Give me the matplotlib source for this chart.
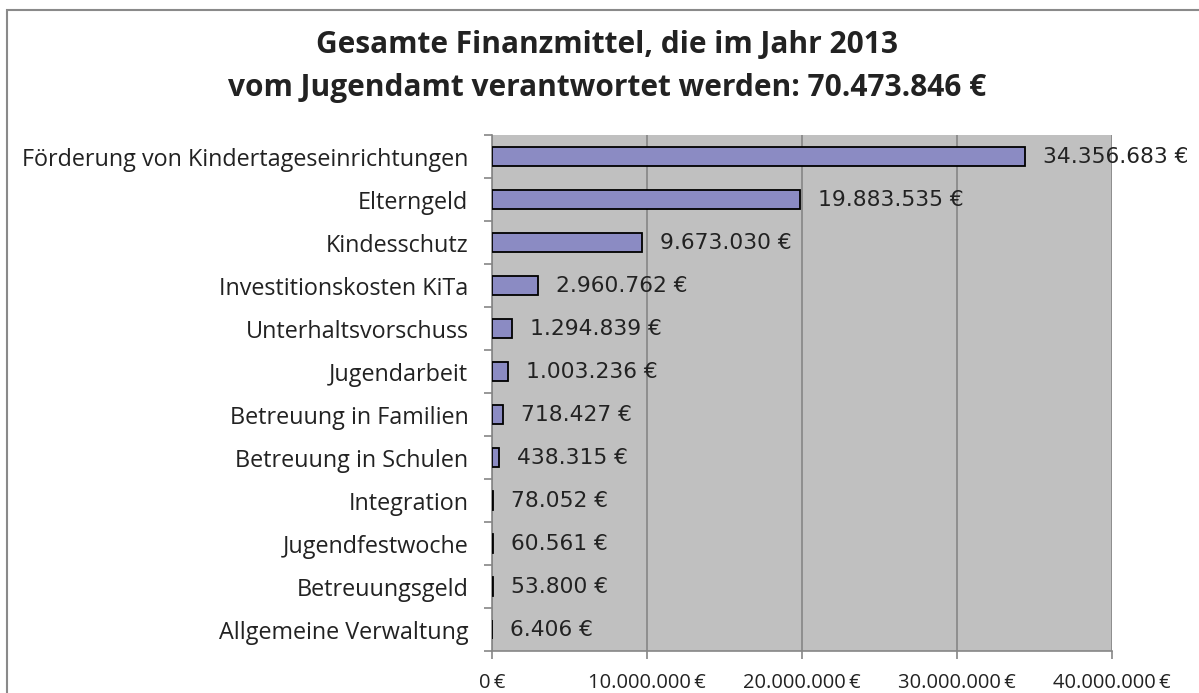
import numpy as np
import matplotlib.pyplot as plt
from matplotlib.patches import Rectangle
from matplotlib.ticker import FuncFormatter

categories = [
    "Förderung von Kindertageseinrichtungen",
    "Elterngeld",
    "Kindesschutz",
    "Investitionskosten KiTa",
    "Unterhaltsvorschuss",
    "Jugendarbeit",
    "Betreuung in Familien",
    "Betreuung in Schulen",
    "Integration",
    "Jugendfestwoche",
    "Betreuungsgeld",
    "Allgemeine Verwaltung",
]
values = [34356683, 19883535, 9673030, 2960762, 1294839, 1003236,
          718427, 438315, 78052, 60561, 53800, 6406]
x_ticks = [0, 10000000, 20000000, 30000000, 40000000]
title_lines = ["Gesamte Finanzmittel, die im Jahr 2013",
               "vom Jugendamt verantwortet werden: 70.473.846 €"]


def euro(v):
    return f"{v:,}".replace(",", ".")


fig = plt.figure(figsize=(11.99, 6.93), dpi=100)
fig.patch.set_facecolor("white")

# grauer Rahmen um das Diagramm (rechts/unten abgeschnitten wie im Original)
fig.patches.append(Rectangle((7 / 1199, -0.05), 1.2, 1 - 10 / 693 + 0.05,
                             transform=fig.transFigure, fill=False,
                             edgecolor="#8a8a8a", linewidth=1.5))

ax = fig.add_axes([492 / 1199, 1 - 651 / 693, 620 / 1199, 516 / 693])
ax.set_facecolor("#C0C0C0")

y = np.arange(len(categories))
ax.barh(y, values, height=0.42, color="#8B8BC3", edgecolor="black",
        linewidth=1.3, zorder=3)

for yi, v in zip(y, values):
    ax.annotate(euro(v) + " €", xy=(v, yi), xytext=(13, 0),
                textcoords="offset points", va="center", ha="left",
                fontsize=15.7, color="#222222", family="DejaVu Sans",
                annotation_clip=False)

ax.set_xlim(0, 40000000)
ax.set_ylim(len(categories) - 0.5, -0.5)

ax.set_xticks(x_ticks)
ax.xaxis.set_major_formatter(FuncFormatter(lambda v, p: euro(int(v)) + "\u2009€"))
ax.grid(axis="x", color="#868686", linewidth=1.2, zorder=1)
ax.set_axisbelow(True)

ax.set_yticks(y)
ax.set_yticklabels(categories)
ax.set_yticks(np.arange(len(categories) + 1) - 0.5, minor=True)
ax.tick_params(axis="y", which="major", length=0, pad=17)
ax.tick_params(axis="y", which="minor", length=6, color="#868686", width=1.2)
ax.tick_params(axis="x", which="major", length=6, color="#868686", width=1.2, pad=10)

for lab in ax.get_yticklabels():
    lab.set_family(["Open Sans", "DejaVu Sans"])
    lab.set_fontsize(16.8)
    lab.set_color("#222222")
for lab in ax.get_xticklabels():
    lab.set_family(["Open Sans", "DejaVu Sans"])
    lab.set_fontsize(14.5)
    lab.set_color("#222222")

for side in ["top", "right"]:
    ax.spines[side].set_visible(False)
for side in ["left", "bottom"]:
    ax.spines[side].set_color("#868686")
    ax.spines[side].set_linewidth(1.2)

fig.text(0.506, 1 - 45 / 693, title_lines[0], ha="center", va="center",
         fontsize=21.5, fontweight="bold", family=["Open Sans", "DejaVu Sans"],
         color="#222222")
fig.text(0.506, 1 - 88 / 693, title_lines[1], ha="center", va="center",
         fontsize=21.5, fontweight="bold", family=["Open Sans", "DejaVu Sans"],
         color="#222222")

fig.savefig("out.png", dpi=100)
